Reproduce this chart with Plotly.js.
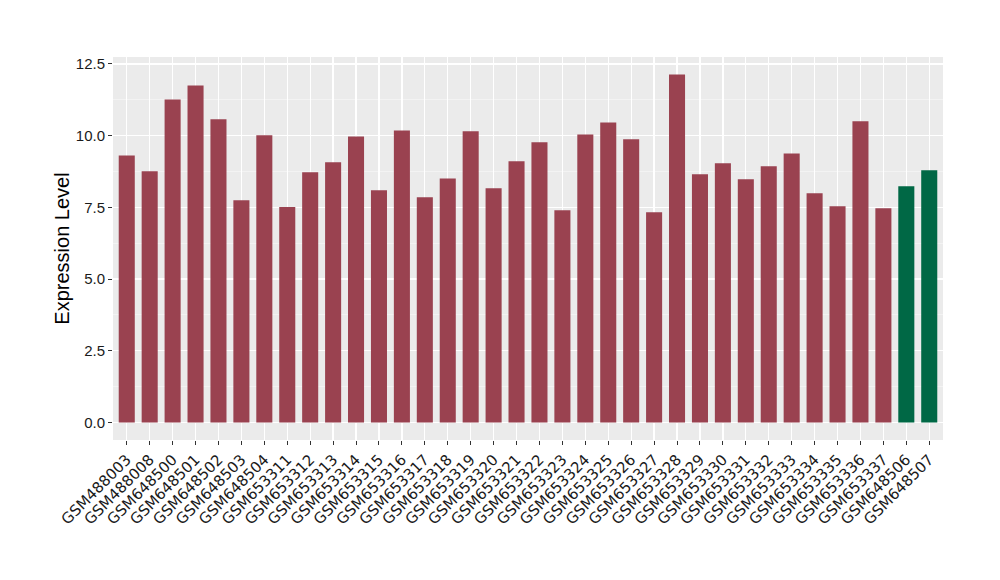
<!DOCTYPE html>
<html>
<head>
<meta charset="utf-8">
<script src="https://cdn.plot.ly/plotly-3.0.1.min.js"></script>
<style>html,body{margin:0;padding:0;background:#fff;}#chart{width:1000px;height:580px;}</style>
</head>
<body>
<div id="chart"></div>
<script>
var samples = ["GSM488003","GSM488008","GSM648500","GSM648501","GSM648502","GSM648503","GSM648504",
  "GSM653311","GSM653312","GSM653313","GSM653314","GSM653315","GSM653316","GSM653317","GSM653318",
  "GSM653319","GSM653320","GSM653321","GSM653322","GSM653323","GSM653324","GSM653325","GSM653326",
  "GSM653327","GSM653328","GSM653329","GSM653330","GSM653331","GSM653332","GSM653333","GSM653334",
  "GSM653335","GSM653336","GSM653337","GSM648506","GSM648507"];
var expression = [9.31,8.76,11.26,11.75,10.57,7.75,10.01,7.51,8.72,9.07,9.97,8.10,10.18,7.85,8.51,
  10.15,8.17,9.11,9.77,7.40,10.04,10.46,9.87,7.33,12.13,8.65,9.04,8.48,8.93,9.38,7.99,7.54,10.50,
  7.47,8.24,8.79];
var groups = ["a","a","a","a","a","a","a","a","a","a","a","a","a","a","a","a","a","a","a","a","a",
  "a","a","a","a","a","a","a","a","a","a","a","a","a","b","b"];
var groupColors = {a: "#9A4250", b: "#006845"};

var trace = {
  type: "bar",
  x: samples,
  y: expression,
  marker: {color: groups.map(function(g){ return groupColors[g]; })},
  hoverinfo: "x+y"
};

var layout = {
  width: 1000, height: 580,
  margin: {l: 113, r: 57, t: 57, b: 140},
  paper_bgcolor: "#ffffff",
  plot_bgcolor: "#EBEBEB",
  bargap: 0.3,
  showlegend: false,
  font: {family: "Liberation Sans, Arial, sans-serif", color: "#1a1a1a"},
  xaxis: {
    type: "category",
    range: [-0.6, 35.6],
    tickangle: -45,
    tickfont: {family: "DejaVu Sans, sans-serif", size: 15, color: "#1a1a1a"},
    showgrid: true, gridcolor: "#ffffff", gridwidth: 1.3,
    ticks: "outside", ticklen: 4, tickcolor: "#333333", tickwidth: 1,
    zeroline: false, showline: false
  },
  yaxis: {
    range: [-0.607, 12.74],
    tickmode: "array",
    tickvals: [0, 2.5, 5, 7.5, 10, 12.5],
    ticktext: ["0.0","2.5","5.0","7.5","10.0","12.5"],
    tickfont: {family: "Liberation Sans, Arial, sans-serif", size: 15, color: "#1a1a1a"},
    showgrid: true, gridcolor: "#ffffff", gridwidth: 1.3,
    minor: {tickmode: "array", tickvals: [1.25, 3.75, 6.25, 8.75, 11.25], showgrid: true, gridcolor: "#F7F7F7", gridwidth: 0.7, ticks: ""},
    ticks: "outside", ticklen: 4, tickcolor: "#333333", tickwidth: 1,
    zeroline: false, showline: false,
    title: {text: "Expression Level", font: {family: "Liberation Sans, Arial, sans-serif", size: 20, color: "#000000"}, standoff: 0}
  }
};

Plotly.newPlot("chart", [trace], layout, {displayModeBar: false, staticPlot: true});
</script>
</body>
</html>
